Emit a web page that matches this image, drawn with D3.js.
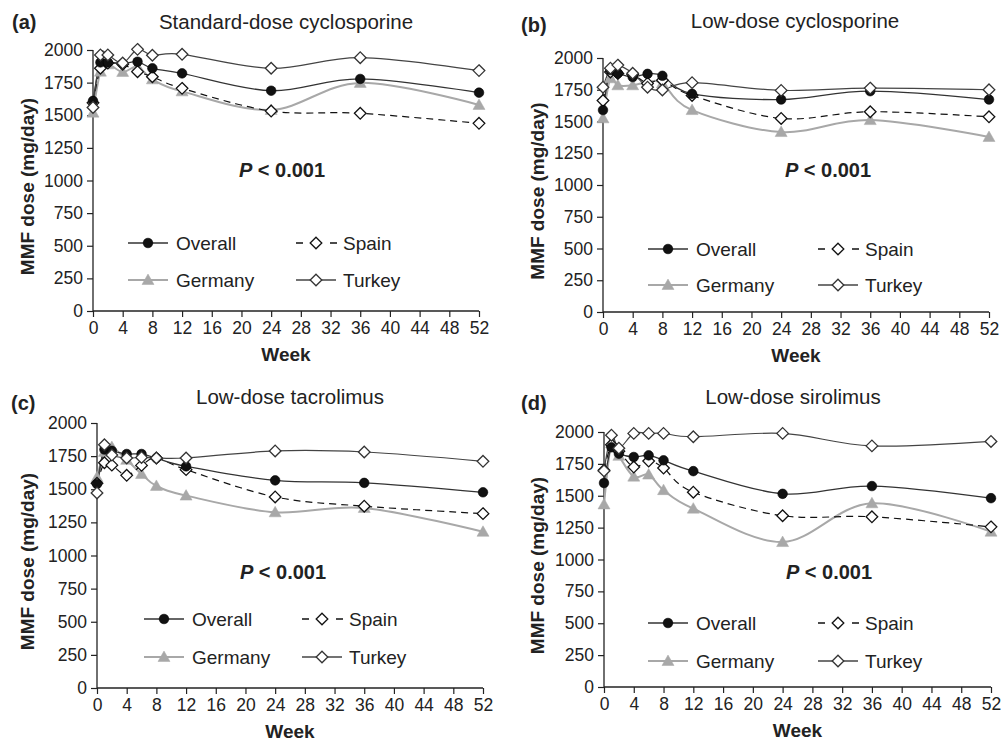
<!DOCTYPE html>
<html><head><meta charset="utf-8">
<script src="https://cdn.jsdelivr.net/npm/d3@7"></script>
<style>
html,body{margin:0;padding:0;background:#fff;}
text{font-family:"Liberation Sans",Arial,sans-serif;fill:#222;}
</style></head><body>
<svg id="c" width="1002" height="743"></svg>
<script>
const weeks = [0,1,2,4,6,8,12,24,36,52];
const xTicks = [0,4,8,12,16,20,24,28,32,36,40,44,48,52];
const yTicks = [0,250,500,750,1000,1250,1500,1750,2000];
const seriesNames = ["Overall","Spain","Germany","Turkey"];
const panelTitles = ["Standard-dose cyclosporine","Low-dose cyclosporine","Low-dose tacrolimus","Low-dose sirolimus"];
const panelLetters = ["(a)","(b)","(c)","(d)"];

const aOverall = [1610,1905,1905,1895,1910,1860,1821,1688,1778,1673];
const aSpain   = [1595,1860,1900,1890,1834,1795,1706,1532,1515,1438];
const aGermany = [1520,1834,1890,1832,1872,1775,1683,1540,1748,1579];
const aTurkey  = [1560,1962,1962,1900,2005,1960,1967,1860,1941,1842];

const bOverall = [1590,1905,1880,1850,1875,1860,1718,1673,1739,1673];
const bSpain   = [1665,1890,1878,1870,1800,1825,1705,1524,1577,1537];
const bGermany = [1525,1840,1785,1785,1810,1800,1590,1417,1511,1378];
const bTurkey  = [1770,1920,1944,1880,1770,1748,1806,1745,1763,1750];

const cOverall = [1540,1800,1790,1766,1766,1735,1673,1567,1548,1477];
const cSpain   = [1545,1700,1682,1605,1680,1736,1648,1442,1372,1316];
const cGermany = [1590,1782,1818,1722,1615,1525,1452,1326,1359,1179];
const cTurkey  = [1472,1836,1758,1736,1740,1736,1736,1789,1781,1711];

const dOverall = [1600,1880,1830,1804,1817,1778,1693,1515,1576,1481];
const dSpain   = [1700,1900,1850,1725,1772,1717,1528,1343,1335,1256];
const dGermany = [1432,1913,1813,1650,1666,1544,1399,1137,1441,1218];
const dTurkey  = [1695,1975,1873,1989,1989,1989,1963,1989,1891,1926];

const panelData = [
  {Overall:aOverall, Spain:aSpain, Germany:aGermany, Turkey:aTurkey},
  {Overall:bOverall, Spain:bSpain, Germany:bGermany, Turkey:bTurkey},
  {Overall:cOverall, Spain:cSpain, Germany:cGermany, Turkey:cTurkey},
  {Overall:dOverall, Spain:dSpain, Germany:dGermany, Turkey:dTurkey}
];

// layout (pixels)
const geom = [
  {x0:93, x1:479, y0:311, y1:50, ox:0},
  {x0:603, x1:989, y0:312, y1:58, ox:510},
  {x0:97, x1:483, y0:688, y1:423, ox:0},
  {x0:604, x1:991, y0:687, y1:432, ox:510}
];
const titlePos = [
  {tx:286, ty:29, lx:12, ly:29},
  {tx:795, ty:28, lx:521, ly:32},
  {tx:290, ty:404, lx:11, ly:410},
  {tx:793, ty:404, lx:521, ly:410}
];
const pPos = [{x:282,y:177},{x:828,y:177},{x:283,y:579},{x:829,y:579}];
const legPos = [
  {x1:128, x2:296, y1:243, y2:280},
  {x1:648, x2:818, y1:249, y2:285},
  {x1:144, x2:302, y1:619, y2:657},
  {x1:648, x2:818, y1:623, y2:661}
];

const style = {
  Overall:{stroke:"#333", width:1.3, dash:null, marker:"circle", fill:"#111", mstroke:"#111"},
  Spain:{stroke:"#111", width:1.2, dash:"7,5", marker:"diamond", fill:"#fff", mstroke:"#111"},
  Germany:{stroke:"#a8a8a8", width:2, dash:null, marker:"triangle", fill:"#a8a8a8", mstroke:"#a8a8a8"},
  Turkey:{stroke:"#444", width:1.2, dash:null, marker:"diamond", fill:"#fff", mstroke:"#333"}
};
function markerPath(type){
  if(type==="diamond"){const s=5.8;return `M0,${-s}L${s},0L0,${s}L${-s},0Z`;}
  if(type==="triangle"){return "M0,-6L6,4.5L-6,4.5Z";}
  return null;
}
function drawMarker(g, type, x, y, st){
  if(type==="circle"){
    g.append("circle").attr("cx",x).attr("cy",y).attr("r",4.8).attr("fill",st.fill).attr("stroke","#000").attr("stroke-width",0.6);
  } else {
    g.append("path").attr("d",markerPath(type)).attr("transform",`translate(${x},${y})`)
      .attr("fill",st.fill).attr("stroke",st.mstroke).attr("stroke-width",type==="diamond"?1.3:0.5);
  }
}

const svg = d3.select("#c");
const drawOrder = ["Germany","Spain","Overall","Turkey"];

panelData.forEach((pd,i)=>{
  const G = geom[i];
  const x = d3.scaleLinear().domain([0,52]).range([G.x0,G.x1]);
  const y = d3.scaleLinear().domain([0,2000]).range([G.y0,G.y1]);
  const g = svg.append("g");

  // axes
  const xa = g.append("g").attr("transform",`translate(0,${G.y0})`)
    .call(d3.axisBottom(x).tickValues(xTicks).tickSize(6).tickPadding(5).tickFormat(d3.format("d")));
  const ya = g.append("g").attr("transform",`translate(${G.x0},0)`)
    .call(d3.axisLeft(y).tickValues(yTicks).tickSize(6).tickPadding(4).tickFormat(d3.format("d")));
  [xa,ya].forEach(a=>{
    a.select(".domain").attr("stroke","#222").attr("stroke-width",1.3);
    a.selectAll(".tick line").attr("stroke","#222").attr("stroke-width",1.2);
    a.selectAll(".tick text").attr("font-size",17.5).attr("fill","#222")
      .style("font-family",'"Liberation Sans",Arial,sans-serif');
  });
  xa.select(".domain").attr("d",`M${G.x0},0H${G.x1}`);
  ya.select(".domain").attr("d",`M0,${G.y0}V${G.y1}`);

  // axis titles
  g.append("text").attr("x",(G.x0+G.x1)/2).attr("y",G.y0+50).attr("text-anchor","middle")
    .attr("font-size",19).attr("font-weight","bold").text("Week");
  g.append("text").attr("transform",`translate(${G.ox+34},${(G.y0+G.y1)/2+6}) rotate(-90)`)
    .attr("text-anchor","middle").attr("font-size",19).attr("font-weight","bold").text("MMF dose (mg/day)");

  // titles
  const T = titlePos[i];
  g.append("text").attr("x",T.tx).attr("y",T.ty).attr("text-anchor","middle").attr("font-size",20.5).text(panelTitles[i]);
  g.append("text").attr("x",T.lx).attr("y",T.ly).attr("font-size",20).attr("font-weight","bold").text(panelLetters[i]);

  // P value
  const P = pPos[i];
  const pt = g.append("text").attr("x",P.x).attr("y",P.y).attr("text-anchor","middle").attr("font-size",20).attr("font-weight","bold");
  pt.append("tspan").attr("font-style","italic").text("P");
  pt.append("tspan").text(" < 0.001");

  // lines
  const line = d3.line().x((d,j)=>x(weeks[j])).y(d=>y(d)).curve(d3.curveCardinal.tension(0));
  drawOrder.forEach(name=>{
    const st = style[name];
    g.append("path").datum(pd[name]).attr("d",line).attr("fill","none")
      .attr("stroke",st.stroke).attr("stroke-width",st.width).attr("stroke-dasharray",st.dash);
  });
  drawOrder.forEach(name=>{
    const st = style[name];
    pd[name].forEach((v,j)=>drawMarker(g, st.marker, x(weeks[j]), y(v), st));
  });

  // legend
  const L = legPos[i];
  const items = [
    {name:"Overall", x:L.x1, y:L.y1},
    {name:"Spain", x:L.x2, y:L.y1},
    {name:"Germany", x:L.x1, y:L.y2},
    {name:"Turkey", x:L.x2, y:L.y2}
  ];
  items.forEach(it=>{
    const st = style[it.name];
    const lg = g.append("g");
    if(it.name==="Spain"){
      lg.append("path").attr("d",`M${it.x},${it.y}H${it.x+41}`).attr("stroke",st.stroke).attr("stroke-width",1.3).attr("stroke-dasharray","7,27");
    } else {
      lg.append("path").attr("d",`M${it.x},${it.y}H${it.x+40}`).attr("stroke",st.stroke).attr("stroke-width",it.name==="Germany"?2:1.3);
    }
    drawMarker(lg, st.marker, it.x+20, it.y, st);
    lg.append("text").attr("x",it.x+(it.name==="Spain"||it.name==="Turkey"?47:48)).attr("y",it.y+7).attr("font-size",19).text(it.name);
  });
});
</script>
</body></html>
